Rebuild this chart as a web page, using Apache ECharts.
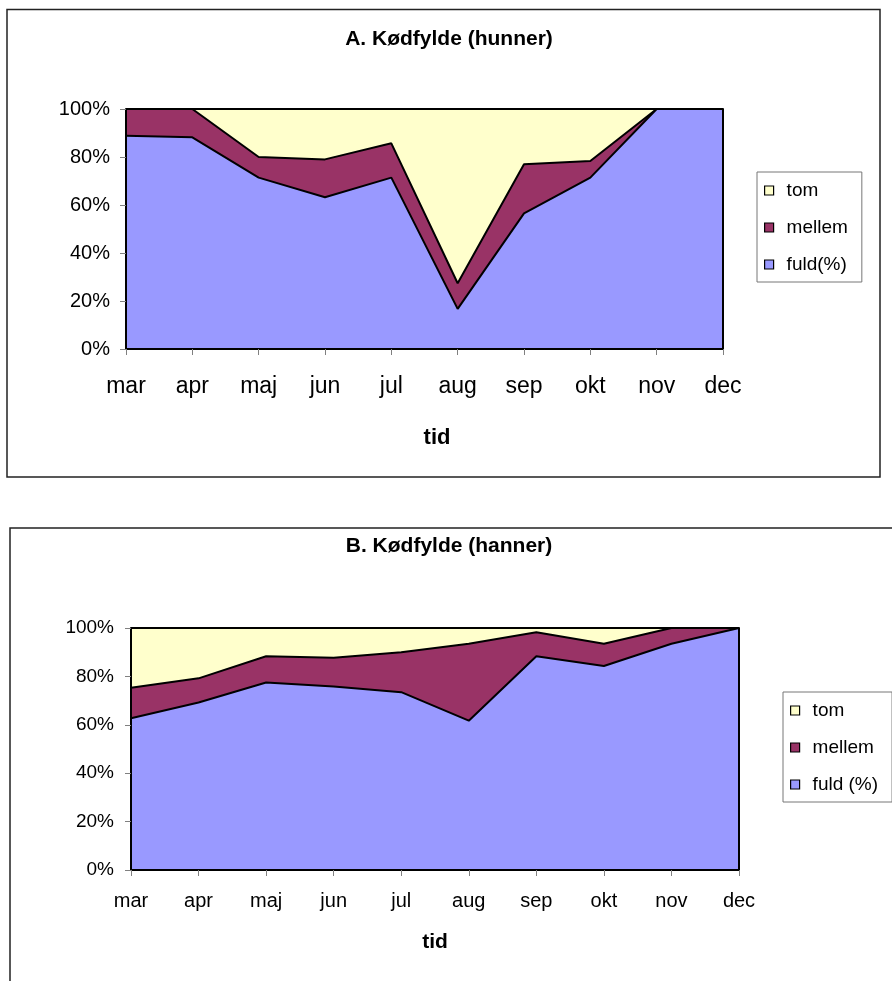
<!DOCTYPE html>
<html>
<head>
<meta charset="utf-8">
<script src="https://cdn.jsdelivr.net/npm/echarts@6/dist/echarts.min.js"></script>
<style>
  html, body { margin: 0; padding: 0; background: #fff; }
  #chart { width: 892px; height: 981px; }
</style>
</head>
<body>
<div id="chart"></div>
<script>
// Months on the time axis
const months = ['mar', 'apr', 'maj', 'jun', 'jul', 'aug', 'sep', 'okt', 'nov', 'dec'];
const yTicks = ['0%', '20%', '40%', '60%', '80%', '100%'];

// A. Kødfylde (hunner) – share of each fill class, percent
const fuldA   = [88.9, 88.2, 71.4, 63.2, 71.4, 16.7, 56.5, 71.4, 100, 100];
const mellemA = [11.1, 11.8,  8.6, 15.8, 14.3, 10.7, 20.5,  6.9,   0,   0];
const tomA    = [ 0.0,  0.0, 20.0, 21.0, 14.3, 72.6, 23.0, 21.7,   0,   0];

// B. Kødfylde (hanner) – share of each fill class, percent
const fuldB   = [62.7, 69.2, 77.5, 75.8, 73.5, 61.7, 88.3, 84.3, 93.5, 100];
const mellemB = [12.6, 10.0, 10.8, 11.9, 16.5, 31.8,  9.9,  9.2,  6.5,   0];
const tomB    = [24.7, 20.8, 11.7, 12.3, 10.0,  6.5,  1.8,  6.5,  0.0,   0];

const FONT = '"Liberation Sans", Arial, sans-serif';
const COL_FULD = '#9999FF';
const COL_MELLEM = '#993366';
const COL_TOM = '#FFFFCC';

const chart = echarts.init(document.getElementById('chart'), null, { renderer: 'canvas' });

function xAxisCfg(gridIndex, labelSize, margin, nameSize, nameGap, namePad) {
  return {
    type: 'category', gridIndex: gridIndex, data: months, boundaryGap: false, z: 10,
    axisLine: { lineStyle: { color: '#000', width: 2 } },
    axisTick: { show: true, length: 6, lineStyle: { color: '#808080', width: 1 } },
    axisLabel: { fontSize: labelSize, color: '#000', fontFamily: FONT, margin: margin },
    splitLine: { show: false },
    name: 'tid', nameLocation: 'middle', nameGap: nameGap,
    nameTextStyle: { fontSize: nameSize, fontWeight: 'bold', color: '#000', fontFamily: FONT, padding: namePad }
  };
}
function yAxisCfg(gridIndex, labelSize, margin) {
  return {
    type: 'value', gridIndex: gridIndex, min: 0, max: 100, interval: 20, z: 10,
    axisLine: { show: true, lineStyle: { color: '#000', width: 2 } },
    axisTick: { show: true, length: 6, lineStyle: { color: '#808080', width: 1 } },
    axisLabel: {
      fontSize: labelSize, color: '#000', fontFamily: FONT, margin: margin,
      formatter: function (v) { return yTicks[Math.round(v / 20)]; }
    },
    splitLine: { show: false }
  };
}
function rightEdge(gridIndex) {
  return {
    type: 'value', gridIndex: gridIndex, position: 'right', min: 0, max: 100, z: 10,
    axisLine: { show: true, lineStyle: { color: '#000', width: 2 } },
    axisTick: { show: false }, axisLabel: { show: false }, splitLine: { show: false }
  };
}
function areaSeries(name, data, color, axisIdx, stack, z) {
  return {
    name: name, type: 'line', data: data, stack: stack,
    xAxisIndex: axisIdx, yAxisIndex: axisIdx,
    showSymbol: false, symbol: 'none', z: z,
    color: color,
    itemStyle: { color: color },
    lineStyle: { color: '#000', width: 2 },
    areaStyle: { color: color, opacity: 1 }
  };
}
function legendCfg(names, left, top) {
  return {
    data: names, orient: 'vertical', left: left, top: top,
    icon: 'rect', itemWidth: 9, itemHeight: 9, itemGap: 18,
    padding: [9, 14, 8, 7],
    borderColor: '#777', borderWidth: 1, backgroundColor: '#fff',
    itemStyle: { borderColor: '#000', borderWidth: 1.2 },
    textStyle: { fontSize: 19, color: '#000', fontFamily: FONT, padding: [0, 0, 0, 8] },
    selectedMode: false
  };
}

chart.setOption({
  animation: false,
  backgroundColor: '#fff',
  graphic: [
    { type: 'rect', z: -10, shape: { x: 7, y: 9.5, width: 873, height: 467.5 },
      style: { fill: 'none', stroke: '#222', lineWidth: 1.5 } },
    { type: 'rect', z: -10, shape: { x: 10, y: 528, width: 900, height: 480 },
      style: { fill: 'none', stroke: '#222', lineWidth: 1.5 } },
    { type: 'text', x: 449, y: 39, style: { text: 'A. Kødfylde (hunner)', font: 'bold 21px ' + FONT,
      fill: '#000', textAlign: 'center', textVerticalAlign: 'middle' } },
    { type: 'text', x: 449, y: 546, style: { text: 'B. Kødfylde (hanner)', font: 'bold 21px ' + FONT,
      fill: '#000', textAlign: 'center', textVerticalAlign: 'middle' } }
  ],
  legend: [
    legendCfg(['tom', 'mellem', 'fuld(%)'], 757, 172),
    legendCfg(['tom', 'mellem', 'fuld (%)'], 783, 692)
  ],
  grid: [
    { left: 126, top: 109, width: 597, height: 240 },
    { left: 131, top: 628, width: 608, height: 242 }
  ],
  xAxis: [
    xAxisCfg(0, 23, 26, 22, 78, [0, 0, 0, 25]),
    xAxisCfg(1, 20, 21, 21, 62, 0)
  ],
  yAxis: [
    yAxisCfg(0, 20, 16),
    yAxisCfg(1, 19, 17),
    rightEdge(0),
    rightEdge(1)
  ],
  series: [
    areaSeries('fuld(%)', fuldA, COL_FULD, 0, 'A', 5),
    areaSeries('mellem', mellemA, COL_MELLEM, 0, 'A', 4),
    areaSeries('tom', tomA, COL_TOM, 0, 'A', 3),
    areaSeries('fuld (%)', fuldB, COL_FULD, 1, 'B', 5),
    areaSeries('mellem', mellemB, COL_MELLEM, 1, 'B', 4),
    areaSeries('tom', tomB, COL_TOM, 1, 'B', 3)
  ]
});
</script>
</body>
</html>
